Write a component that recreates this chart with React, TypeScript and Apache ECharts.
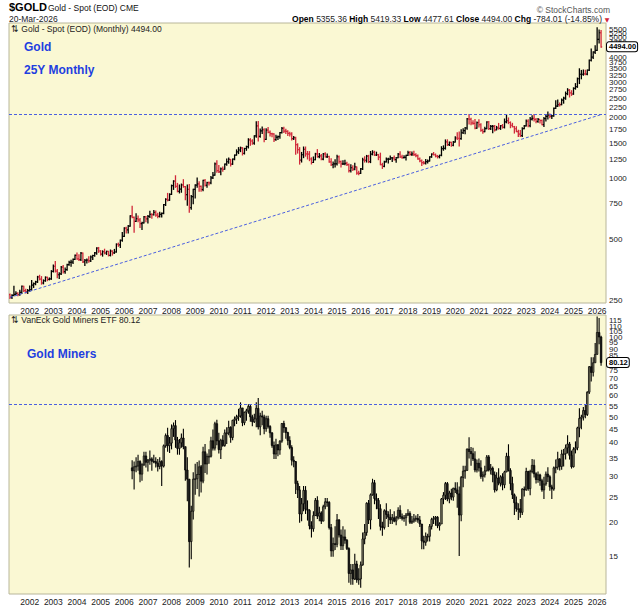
import React, { useEffect, useRef } from "react";
import * as echarts from "echarts";

// ---------- data ----------
const START_YEAR = 2001;
const START_MONTH = 2; // March (0-based)
const YEAR_LABEL_MONTH = "01";

// Gold spot monthly bars, Mar 2001 .. Mar 2026
const GOLD_FIRST_OPEN = 266;
const goldClose = [
  258, 264, 267, 270, 266, 273, 293, 279, 275, 279,
  282, 297, 302, 308, 326, 318, 304, 312, 324, 317, 319, 347,
  368, 348, 334, 337, 364, 346, 354, 375, 385, 386, 398, 417,
  400, 397, 427, 387, 394, 395, 391, 409, 416, 429, 453, 438,
  423, 435, 428, 436, 417, 437, 429, 433, 473, 470, 495, 517,
  569, 557, 582, 654, 643, 614, 633, 624, 599, 604, 647, 632,
  650, 665, 662, 680, 659, 650, 665, 673, 743, 789, 783, 836,
  923, 972, 916, 864, 886, 930, 912, 834, 884, 718, 815, 884,
  928, 942, 916, 883, 979, 927, 955, 952, 1008, 1040, 1182, 1096,
  1081, 1118, 1113, 1180, 1212, 1244, 1181, 1248, 1307, 1357, 1386, 1421,
  1333, 1410, 1439, 1556, 1536, 1500, 1628, 1826, 1620, 1724, 1746, 1566,
  1737, 1696, 1669, 1664, 1559, 1604, 1614, 1691, 1773, 1719, 1713, 1675,
  1663, 1578, 1597, 1472, 1393, 1234, 1313, 1396, 1327, 1323, 1251, 1202,
  1240, 1326, 1284, 1296, 1250, 1327, 1282, 1287, 1211, 1171, 1182, 1184,
  1283, 1213, 1183, 1183, 1190, 1172, 1095, 1134, 1115, 1142, 1065, 1061,
  1118, 1238, 1233, 1293, 1215, 1321, 1351, 1309, 1316, 1277, 1173, 1151,
  1211, 1249, 1249, 1268, 1268, 1242, 1269, 1322, 1280, 1271, 1275, 1303,
  1345, 1318, 1325, 1315, 1299, 1253, 1224, 1201, 1192, 1215, 1222, 1282,
  1321, 1313, 1292, 1284, 1305, 1409, 1413, 1520, 1472, 1513, 1463, 1517,
  1589, 1585, 1577, 1687, 1730, 1781, 1975, 1968, 1886, 1879, 1777, 1895,
  1848, 1734, 1708, 1769, 1907, 1770, 1814, 1814, 1743, 1783, 1774, 1829,
  1797, 1909, 1937, 1897, 1838, 1807, 1766, 1711, 1661, 1633, 1768, 1824,
  1928, 1827, 1969, 1990, 1963, 1919, 1965, 1940, 1849, 1983, 2036, 2063,
  2040, 2044, 2230, 2286, 2327, 2326, 2448, 2503, 2634, 2744, 2657, 2625,
  2798, 2858, 3124, 3288, 3289, 3303, 3290, 3448, 3858, 4002, 4230, 4320,
  4890, 5278, 4494,
];
const goldHigh = [
  268, 266, 293, 275, 272, 280, 294, 293, 283, 282,
  294, 313, 304, 310, 328, 332, 327, 315, 326, 325, 322, 350,
  373, 389, 355, 342, 367, 371, 361, 377, 390, 394, 400, 418,
  428, 419, 430, 428, 397, 400, 410, 414, 417, 430, 454, 456,
  440, 439, 447, 437, 436, 443, 439, 446, 475, 479, 497, 541,
  571, 574, 586, 654, 730, 646, 669, 653, 635, 608, 649, 650,
  656, 690, 669, 695, 692, 673, 682, 675, 745, 795, 845, 841,
  929, 976, 1033, 947, 930, 940, 988, 914, 931, 934, 825, 885,
  933, 1007, 964, 920, 982, 989, 960, 962, 1024, 1071, 1195, 1227,
  1162, 1128, 1140, 1180, 1249, 1265, 1244, 1251, 1310, 1388, 1424, 1432,
  1424, 1413, 1448, 1576, 1577, 1560, 1632, 1913, 1921, 1763, 1803, 1764,
  1764, 1790, 1720, 1676, 1667, 1640, 1625, 1693, 1790, 1796, 1754, 1727,
  1697, 1685, 1617, 1605, 1487, 1424, 1348, 1434, 1434, 1362, 1361, 1268,
  1280, 1334, 1392, 1332, 1315, 1332, 1345, 1323, 1290, 1255, 1208, 1239,
  1307, 1294, 1223, 1225, 1232, 1205, 1182, 1170, 1157, 1191, 1143, 1088,
  1123, 1263, 1283, 1303, 1304, 1362, 1375, 1366, 1352, 1318, 1337, 1191,
  1220, 1264, 1262, 1295, 1270, 1296, 1272, 1331, 1357, 1306, 1299, 1307,
  1366, 1361, 1356, 1365, 1326, 1309, 1266, 1236, 1215, 1243, 1237, 1284,
  1326, 1347, 1324, 1303, 1306, 1439, 1453, 1555, 1557, 1518, 1516, 1525,
  1611, 1689, 1704, 1748, 1765, 1789, 1984, 2075, 1992, 1933, 1965, 1906,
  1959, 1872, 1755, 1798, 1913, 1916, 1833, 1834, 1834, 1814, 1877, 1831,
  1853, 1974, 2070, 1998, 1910, 1879, 1814, 1807, 1735, 1730, 1786, 1833,
  1949, 1959, 2009, 2048, 2079, 1984, 1987, 1949, 1953, 2009, 2052, 2135,
  2088, 2052, 2236, 2431, 2450, 2368, 2483, 2531, 2685, 2790, 2761, 2726,
  2817, 2956, 3149, 3500, 3435, 3452, 3439, 3454, 3871, 4381, 4245, 4550,
  5595, 5450, 5419.33,
];
const goldLow = [
  255, 255, 263, 265, 263, 264, 270, 276, 271, 270,
  276, 280, 289, 298, 306, 315, 300, 301, 310, 312, 315, 317,
  345, 345, 323, 320, 335, 341, 340, 352, 372, 368, 380, 398,
  399, 393, 393, 384, 371, 382, 385, 388, 397, 412, 422, 431,
  418, 413, 424, 421, 414, 414, 418, 426, 432, 462, 456, 490,
  516, 537, 538, 581, 640, 543, 613, 612, 573, 560, 602, 612,
  603, 641, 637, 660, 651, 640, 646, 645, 670, 736, 776, 780,
  834, 884, 905, 860, 849, 856, 907, 786, 737, 681, 705, 751,
  802, 907, 865, 865, 870, 918, 905, 931, 942, 1000, 1040, 1075,
  1072, 1045, 1089, 1112, 1164, 1192, 1155, 1176, 1240, 1307, 1330, 1360,
  1309, 1324, 1381, 1418, 1462, 1478, 1480, 1601, 1535, 1602, 1672, 1523,
  1564, 1688, 1627, 1613, 1527, 1548, 1564, 1585, 1684, 1691, 1672, 1635,
  1626, 1555, 1562, 1322, 1338, 1180, 1208, 1270, 1292, 1251, 1227, 1182,
  1202, 1239, 1277, 1268, 1240, 1241, 1280, 1272, 1204, 1161, 1131, 1142,
  1167, 1191, 1142, 1175, 1170, 1162, 1077, 1077, 1098, 1107, 1052, 1046,
  1060, 1111, 1208, 1208, 1200, 1200, 1311, 1302, 1302, 1241, 1171, 1123,
  1146, 1207, 1195, 1245, 1214, 1236, 1204, 1267, 1271, 1261, 1264, 1237,
  1302, 1307, 1303, 1302, 1282, 1246, 1211, 1160, 1180, 1183, 1196, 1221,
  1275, 1310, 1281, 1266, 1267, 1298, 1382, 1400, 1459, 1459, 1445, 1454,
  1517, 1562, 1451, 1567, 1671, 1670, 1757, 1863, 1849, 1860, 1764, 1775,
  1803, 1717, 1677, 1705, 1766, 1750, 1751, 1688, 1721, 1746, 1758, 1753,
  1780, 1782, 1890, 1872, 1787, 1805, 1681, 1709, 1615, 1617, 1616, 1765,
  1824, 1805, 1805, 1950, 1932, 1893, 1903, 1884, 1846, 1810, 1931, 1974,
  2002, 1985, 2039, 2228, 2278, 2287, 2320, 2364, 2471, 2604, 2537, 2583,
  2615, 2773, 2832, 2957, 3121, 3247, 3268, 3269, 3436, 3829, 3930, 4170,
  4310, 4690, 4477.61,
];

// VanEck Gold Miners ETF monthly (adjusted), May 2006 .. Mar 2026
const GDX_OFFSET = 62; // months after Mar 2001
const GDX_FIRST_OPEN = 32.2;
const gdxClose = [
  31.4, 32.5, 32.7, 34.0, 30.5, 33.1, 35.7, 33.8,
  34.4, 34.8, 34.1, 34.0, 33.5, 32.6, 34.0, 32.7, 39.0, 42.6, 39.0, 39.9,
  45.2, 46.4, 41.0, 38.1, 40.0, 41.7, 38.7, 31.6, 29.2, 17.0, 22.1, 29.2,
  29.3, 30.4, 32.5, 28.7, 37.0, 33.3, 35.6, 35.6, 40.7, 38.2, 47.2, 40.7,
  37.7, 40.9, 39.1, 43.6, 43.6, 45.7, 41.9, 48.6, 49.2, 50.1, 50.5, 54.1,
  47.6, 52.1, 52.8, 54.8, 50.1, 48.0, 49.2, 53.9, 45.9, 50.5, 50.0, 45.2,
  49.3, 46.1, 43.6, 39.1, 36.3, 39.3, 37.6, 40.6, 47.3, 45.6, 43.7, 40.8,
  38.4, 34.4, 34.0, 28.1, 26.6, 21.6, 23.6, 26.5, 22.5, 22.3, 19.5, 19.0,
  21.3, 24.3, 21.2, 21.8, 20.3, 23.0, 24.0, 23.9, 19.2, 15.7, 16.7, 16.6,
  20.5, 18.0, 16.4, 17.7, 17.2, 16.0, 12.9, 13.3, 12.3, 14.0, 12.2, 12.3,
  13.9, 17.4, 18.4, 23.7, 20.5, 25.5, 28.3, 24.7, 24.3, 22.6, 19.4, 19.2,
  22.2, 21.5, 21.0, 20.5, 20.9, 20.3, 20.9, 22.3, 21.1, 20.8, 20.9, 21.4,
  21.7, 20.1, 20.3, 20.7, 20.8, 20.5, 19.8, 17.1, 16.9, 17.8, 17.8, 19.4,
  20.6, 20.8, 21.0, 19.5, 19.8, 24.6, 25.4, 28.1, 24.6, 25.9, 25.0, 27.0,
  26.6, 25.7, 21.4, 29.6, 31.3, 31.5, 37.9, 37.1, 36.4, 34.8, 31.6, 33.5,
  32.2, 29.9, 30.3, 31.4, 35.4, 31.6, 32.1, 30.3, 26.6, 29.5, 28.2, 29.8,
  27.8, 31.1, 35.6, 31.5, 28.1, 25.5, 23.8, 22.6, 22.6, 21.9, 26.8, 26.6,
  31.2, 26.9, 31.2, 32.9, 30.6, 29.1, 30.3, 28.8, 26.6, 28.0, 30.5, 29.8,
  27.3, 26.8, 32.2, 32.4, 34.8, 32.6, 36.3, 36.4, 38.3, 39.6, 35.9, 32.5,
  37.8, 38.3, 45.5, 49.4, 50.0, 52.9, 51.1, 62.0, 77.3, 73.6, 80.0, 86.0,
  104.0, 100.0, 80.12,
];
const gdxHigh = [
  34.4, 34.0, 35.3, 36.1, 34.4, 33.5, 37.0, 37.0,
  34.8, 37.4, 35.3, 36.1, 35.3, 34.8, 35.3, 34.4, 39.4, 43.4, 45.6, 42.1,
  46.9, 47.7, 48.7, 42.1, 41.3, 43.4, 45.2, 38.7, 35.3, 29.2, 23.2, 31.0,
  33.4, 33.9, 34.3, 33.0, 38.7, 39.6, 36.5, 37.8, 42.2, 44.9, 48.0, 48.8,
  43.6, 41.4, 42.7, 44.9, 45.8, 48.4, 46.2, 48.8, 50.2, 51.0, 53.7, 56.8,
  54.1, 52.4, 53.7, 55.9, 55.9, 51.0, 51.5, 56.8, 59.0, 51.9, 52.8, 51.0,
  50.6, 50.6, 46.6, 43.8, 40.5, 41.4, 39.6, 40.9, 47.5, 48.4, 45.8, 44.0,
  42.3, 39.2, 35.6, 34.2, 28.8, 27.5, 24.8, 27.5, 27.5, 24.3, 22.5, 20.3,
  22.1, 24.8, 25.2, 23.0, 22.1, 23.4, 24.8, 24.8, 24.1, 19.8, 17.6, 19.4,
  21.6, 20.7, 18.9, 19.4, 18.9, 17.4, 16.2, 14.0, 14.0, 15.3, 14.4, 13.5,
  14.3, 18.4, 19.8, 23.9, 24.4, 25.8, 29.3, 29.0, 25.8, 24.8, 23.5, 20.2,
  22.5, 23.7, 22.1, 22.5, 21.6, 22.1, 21.2, 22.9, 23.3, 21.7, 21.4, 21.8,
  22.5, 22.1, 21.2, 21.6, 21.3, 21.6, 21.2, 19.8, 17.9, 18.4, 18.2, 19.8,
  20.9, 21.2, 21.2, 21.2, 20.1, 24.8, 26.1, 28.5, 28.5, 26.4, 26.9, 27.1,
  28.4, 28.4, 27.4, 30.0, 32.8, 32.8, 38.1, 42.0, 38.6, 38.3, 37.2, 34.6,
  34.9, 34.4, 31.2, 32.8, 36.0, 36.0, 33.3, 32.6, 31.2, 31.0, 32.1, 30.2,
  30.7, 31.4, 36.7, 39.5, 32.1, 29.8, 25.8, 25.1, 23.7, 24.6, 27.0, 27.4,
  32.2, 31.4, 31.7, 34.8, 34.6, 31.0, 31.2, 30.6, 29.3, 29.8, 31.2, 32.4,
  30.2, 27.8, 32.6, 34.6, 37.0, 35.0, 37.7, 37.9, 39.4, 42.7, 40.3, 37.4,
  38.5, 40.5, 46.0, 54.0, 51.0, 54.5, 55.5, 62.5, 77.8, 84.0, 84.0, 95.0,
  119.5, 118.0, 101.0,
];
const gdxLow = [
  29.2, 26.7, 31.0, 31.4, 28.4, 28.8, 32.7, 32.3,
  31.2, 33.1, 31.4, 33.5, 32.3, 31.2, 31.8, 27.5, 32.3, 38.3, 37.0, 36.6,
  37.8, 42.1, 38.3, 36.1, 36.1, 38.3, 37.8, 28.8, 24.1, 13.6, 14.6, 20.6,
  25.5, 26.8, 25.1, 26.0, 28.2, 30.8, 30.4, 33.4, 35.2, 37.4, 37.4, 39.2,
  36.5, 34.8, 38.7, 38.7, 39.6, 42.7, 40.0, 40.9, 46.2, 47.1, 48.4, 49.7,
  46.2, 46.6, 48.4, 51.5, 48.0, 46.2, 47.5, 45.8, 44.9, 42.7, 46.6, 43.1,
  44.0, 45.3, 41.8, 38.3, 34.8, 34.8, 35.6, 36.1, 40.0, 43.6, 41.4, 39.2,
  37.8, 32.9, 32.4, 25.7, 24.8, 20.0, 20.3, 22.1, 21.6, 20.4, 18.9, 17.6,
  18.5, 21.2, 20.7, 20.3, 19.8, 20.3, 22.5, 23.0, 18.9, 14.9, 14.9, 15.8,
  16.2, 17.6, 15.8, 15.8, 16.7, 15.8, 11.9, 11.7, 11.7, 12.2, 11.9, 11.7,
  11.4, 13.8, 16.6, 17.9, 19.8, 18.9, 25.3, 23.5, 22.5, 20.7, 18.7, 17.9,
  18.9, 20.7, 19.3, 19.8, 19.8, 20.1, 19.6, 20.6, 20.7, 20.4, 20.2, 19.5,
  21.2, 19.8, 19.8, 20.0, 20.2, 20.0, 19.3, 15.9, 15.9, 16.4, 17.0, 17.0,
  18.9, 19.8, 19.5, 19.1, 18.7, 19.8, 23.5, 24.4, 24.1, 23.7, 24.3, 24.2,
  25.9, 22.8, 15.0, 20.3, 27.2, 29.3, 31.4, 34.9, 32.8, 34.2, 31.0, 30.9,
  31.2, 29.3, 28.6, 29.6, 31.2, 31.2, 30.4, 28.4, 26.0, 26.3, 27.7, 27.4,
  26.5, 27.0, 31.0, 31.2, 26.5, 24.6, 21.4, 22.0, 20.5, 20.9, 21.4, 25.1,
  26.4, 26.4, 25.4, 30.7, 29.6, 28.1, 28.3, 27.6, 26.2, 24.6, 27.6, 28.5,
  26.4, 24.6, 26.4, 30.7, 31.7, 31.5, 31.7, 32.6, 34.6, 36.5, 34.6, 32.0,
  32.3, 36.5, 37.5, 42.0, 45.0, 48.5, 49.5, 50.5, 61.0, 68.0, 71.0, 80.0,
  86.0, 94.0, 78.0,
];

// reference lines
const GOLD_RESISTANCE = 2075;
const GOLD_TREND_START = 258;
const GOLD_TREND_END = 2075;
const GDX_RESISTANCE = 56;

// axis ranges and tick labels (labels hidden by the last-price tags are left out)
const GOLD_MIN = 242;
const GOLD_MAX = 5900;
const GDX_MIN = 10.8;
const GDX_MAX = 121;
const goldTicks = [250, 500, 750, 1000, 1250, 1500, 1750, 2000, 2250, 2500, 2750, 3000, 3250, 3500, 3750, 4000, 4750, 5000, 5250, 5500, 5750];
const gdxTicks = [15, 20, 25, 30, 35, 40, 45, 50, 55, 60, 65, 70, 75, 85, 90, 95, 100, 105, 110, 115, 120];

// header quote
const QUOTE_DATE = "20-Mar-2026";
const Q_OPEN = "5355.36";
const Q_HIGH = "5419.33";
const Q_LOW = "4477.61";
const Q_CLOSE = "4494.00";
const Q_CHG = "-784.01";
const Q_PCT = "(-14.85%)";
const GOLD_LAST = 4494.0;
const GDX_LAST = 80.12;

// ---------- derived ----------
const TOTAL_MONTHS = goldClose.length;
const EXTRA_SLOTS = 2;
const categories: string[] = [];
for (let i = 0; i < TOTAL_MONTHS; i++) {
  const m = START_MONTH + i;
  const y = START_YEAR + Math.floor(m / 12);
  const mm = String((m % 12) + 1).padStart(2, "0");
  categories.push(`${y}-${mm}`);
}
for (let i = 0; i < EXTRA_SLOTS; i++) categories.push("");

const goldBars = goldClose.map((c, i) => [
  i,
  i === 0 ? GOLD_FIRST_OPEN : goldClose[i - 1],
  c,
  goldLow[i],
  goldHigh[i],
]);
const gdxBars = gdxClose.map((c, i) => [
  i + GDX_OFFSET,
  i === 0 ? GDX_FIRST_OPEN : gdxClose[i - 1],
  c,
  gdxLow[i],
  gdxHigh[i],
]);

// ---------- style ----------
const FONT = '"Liberation Sans", Arial, Helvetica, sans-serif';
const PANEL_BG = "#faf8d3";
const PANEL_BORDER = "#b8b69a";
const BLUE_LABEL = "#1f3fe0";
const GUIDE_BLUE = "#4a5fe0";
const UP = "#000000";
const DOWN = "#d1283a";

function ohlcRender(params: any, api: any) {
  const i = api.value(0);
  const o = api.value(1);
  const c = api.value(2);
  const l = api.value(3);
  const h = api.value(4);
  const pH = api.coord([i, h]);
  const pL = api.coord([i, l]);
  const pO = api.coord([i, o]);
  const pC = api.coord([i, c]);
  const w = api.size([1, 0])[0] * 0.55;
  const color = c >= o ? UP : DOWN;
  return {
    type: "group",
    children: [
      { type: "line", shape: { x1: pH[0], y1: pH[1] - 0.5, x2: pL[0], y2: pL[1] + 0.5 }, style: { stroke: color, lineWidth: 1.3 } },
      { type: "line", shape: { x1: pO[0] - w, y1: pO[1], x2: pO[0], y2: pO[1] }, style: { stroke: color, lineWidth: 1.2 } },
      { type: "line", shape: { x1: pC[0], y1: pC[1], x2: pC[0] + w, y2: pC[1] }, style: { stroke: color, lineWidth: 1.2 } },
    ],
  };
}

function candleRender(params: any, api: any) {
  const i = api.value(0);
  const o = api.value(1);
  const c = api.value(2);
  const l = api.value(3);
  const h = api.value(4);
  const pH = api.coord([i, h]);
  const pL = api.coord([i, l]);
  const pO = api.coord([i, o]);
  const pC = api.coord([i, c]);
  const bw = api.size([1, 0])[0] * 0.8;
  const top = Math.min(pO[1], pC[1]);
  const bh = Math.max(Math.abs(pO[1] - pC[1]), 0.8);
  const up = c >= o;
  return {
    type: "group",
    children: [
      { type: "line", shape: { x1: pH[0], y1: pH[1], x2: pL[0], y2: pL[1] }, style: { stroke: "#000", lineWidth: 1.1 } },
      {
        type: "rect",
        shape: { x: pO[0] - bw / 2, y: top, width: bw, height: bh },
        style: { fill: up ? "#7d7b63" : "#1c1c1c", stroke: "#000", lineWidth: 0.7 },
      },
    ],
  };
}

export default function App() {
  const ref = useRef<HTMLDivElement>(null);

  useEffect(() => {
    if (!ref.current) return;
    const chart = echarts.init(ref.current, null, { renderer: "svg" });

    const xAxisBase = (g: number) => ({
      type: "category",
      gridIndex: g,
      data: categories,
      boundaryGap: true,
      axisLine: { show: false },
      axisTick: { show: false },
      splitLine: { show: false },
      axisLabel: {
        interval: (_i: number, v: string) => v.endsWith("-" + YEAR_LABEL_MONTH),
        formatter: (v: string) => v.slice(0, 4),
        fontSize: 8.5,
        color: "#222",
        margin: 3,
        fontFamily: FONT,
      },
    });

    const yAxisBase = (g: number, min: number, max: number, ticks: number[]) => ({
      type: "log",
      logBase: 10,
      gridIndex: g,
      position: "right",
      min,
      max,
      axisLine: { show: false },
      axisTick: { show: false },
      splitLine: { show: false },
      axisLabel: {
        customValues: ticks,
        formatter: (v: number) => String(Math.round(v)),
        fontSize: 8,
        color: "#222",
        margin: 3,
        fontFamily: FONT,
      },
    });

    const priceLabel = (value: number, text: string) => ({
      yAxis: value,
      lineStyle: { width: 0, color: "rgba(0,0,0,0)" },
      label: {
        show: true,
        position: "end",
        distance: 1,
        formatter: text,
        color: "#000",
        fontWeight: "bold",
        fontSize: 7.5,
        fontFamily: FONT,
        backgroundColor: "#ffffff",
        borderColor: "#000000",
        borderWidth: 1,
        borderRadius: 2,
        padding: [1, 1, 0, 2],
        opacity: 1,
      },
    });

    const option: any = {
      animation: false,
      backgroundColor: "#ffffff",
      textStyle: { fontFamily: FONT },
      grid: [
        { left: 9, top: 23, width: 597, height: 280, show: true, backgroundColor: PANEL_BG, borderColor: PANEL_BORDER, borderWidth: 1 },
        { left: 9, top: 315, width: 597, height: 279, show: true, backgroundColor: PANEL_BG, borderColor: PANEL_BORDER, borderWidth: 1 },
      ],
      xAxis: [xAxisBase(0), xAxisBase(1)],
      yAxis: [
        yAxisBase(0, GOLD_MIN, GOLD_MAX, goldTicks),
        yAxisBase(1, GDX_MIN, GDX_MAX, gdxTicks),
      ],
      series: [
        {
          type: "line",
          xAxisIndex: 0,
          yAxisIndex: 0,
          data: [],
          silent: true,
          markLine: {
            silent: true,
            symbol: "none",
            animation: false,
            label: { show: false },
            lineStyle: { color: GUIDE_BLUE, type: [3, 2], width: 1 },
            data: [
              { yAxis: GOLD_RESISTANCE },
              [
                { coord: [categories[0], GOLD_TREND_START] },
                { coord: [categories[TOTAL_MONTHS - 1], GOLD_TREND_END] },
              ],
            ],
          },
        },
        {
          type: "custom",
          xAxisIndex: 0,
          yAxisIndex: 0,
          data: goldBars,
          encode: { x: 0, y: [1, 2, 3, 4] },
          renderItem: ohlcRender,
          clip: true,
          silent: true,
          z: 3,
          markLine: {
            silent: true,
            symbol: "none",
            animation: false,
            z: 10,
            data: [priceLabel(GOLD_LAST, GOLD_LAST.toFixed(2))],
          },
        },
        {
          type: "line",
          xAxisIndex: 1,
          yAxisIndex: 1,
          data: [],
          silent: true,
          markLine: {
            silent: true,
            symbol: "none",
            animation: false,
            label: { show: false },
            lineStyle: { color: GUIDE_BLUE, type: [3, 2], width: 1 },
            data: [{ yAxis: GDX_RESISTANCE }],
          },
        },
        {
          type: "custom",
          xAxisIndex: 1,
          yAxisIndex: 1,
          data: gdxBars,
          encode: { x: 0, y: [1, 2, 3, 4] },
          renderItem: candleRender,
          clip: true,
          silent: true,
          z: 3,
          markLine: {
            silent: true,
            symbol: "none",
            animation: false,
            z: 10,
            data: [priceLabel(GDX_LAST, GDX_LAST.toFixed(2))],
          },
        },
      ],
      graphic: [
        { type: "text", left: 9, top: 1, style: { text: "$GOLD", font: `bold 11px ${FONT}`, fill: "#000" } },
        { type: "text", left: 48, top: 3, style: { text: "Gold - Spot (EOD) CME", font: `8.5px ${FONT}`, fill: "#111" } },
        { type: "text", left: 9, top: 14, style: { text: QUOTE_DATE, font: `8.5px ${FONT}`, fill: "#222" } },
        { type: "text", x: 610, y: 10, style: { text: "© StockCharts.com", font: `8.5px ${FONT}`, fill: "#555", textAlign: "right", textVerticalAlign: "middle" } },
        {
          type: "text",
          x: 602,
          y: 19,
          style: {
            text: `{b|Open} ${Q_OPEN} {b|High} ${Q_HIGH} {b|Low} ${Q_LOW} {b|Close} ${Q_CLOSE} {b|Chg} ${Q_CHG} ${Q_PCT}`,
            font: `8.5px ${FONT}`,
            fill: "#222",
            textAlign: "right",
            textVerticalAlign: "middle",
            rich: { b: { fontWeight: "bold", fontSize: 8.5, fontFamily: FONT, fill: "#000" } },
          },
        },
        { type: "text", x: 607, y: 19, style: { text: "▼", font: `6px "DejaVu Sans", sans-serif`, fill: DOWN, textAlign: "center", textVerticalAlign: "middle" } },
        { type: "text", x: 11, y: 29, z: 10, style: { text: "⇅ Gold - Spot (EOD) (Monthly) 4494.00", font: `8.5px ${FONT}`, fill: "#222", textVerticalAlign: "middle" } },
        { type: "text", x: 24, y: 47, z: 10, style: { text: "Gold", font: `bold 12px ${FONT}`, fill: BLUE_LABEL, textVerticalAlign: "middle" } },
        { type: "text", x: 24, y: 70, z: 10, style: { text: "25Y Monthly", font: `bold 12px ${FONT}`, fill: BLUE_LABEL, textVerticalAlign: "middle" } },
        { type: "text", x: 11, y: 320, z: 10, style: { text: "⇅ VanEck Gold Miners ETF 80.12", font: `8.5px ${FONT}`, fill: "#222", textVerticalAlign: "middle" } },
        { type: "text", x: 27, y: 354, z: 10, style: { text: "Gold Miners", font: `bold 12px ${FONT}`, fill: BLUE_LABEL, textVerticalAlign: "middle" } },
      ],
    };

    chart.setOption(option);
    return () => chart.dispose();
  }, []);

  return (
    <div
      ref={ref}
      style={{ position: "fixed", left: 0, top: 0, width: 639, height: 614, background: "#fff" }}
    />
  );
}
